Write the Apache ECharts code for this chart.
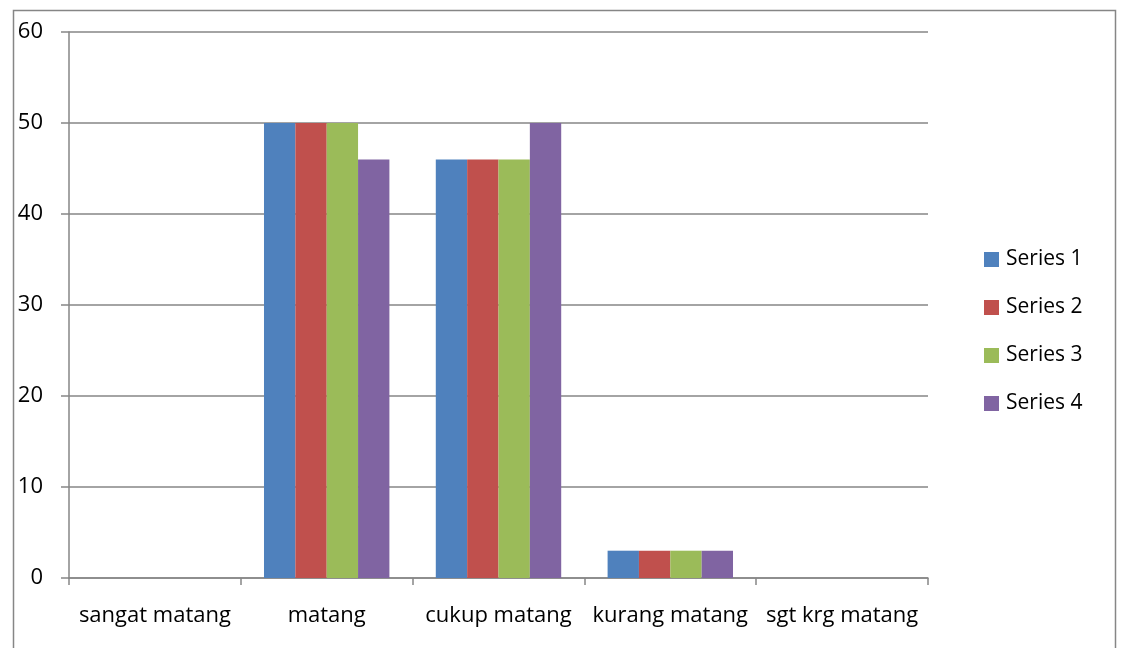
<!DOCTYPE html>
<html>
<head>
<meta charset="utf-8">
<script src="https://cdn.jsdelivr.net/npm/echarts@6/dist/echarts.min.js"></script>
<style>
html, body { margin: 0; padding: 0; background: #fff; }
#chart { width: 1121px; height: 648px; }
</style>
</head>
<body>
<div id="chart"></div>
<script>
var categories = ['sangat matang', 'matang', 'cukup matang', 'kurang matang', 'sgt krg matang'];
var seriesNames = ['Series 1', 'Series 2', 'Series 3', 'Series 4'];
var series1 = [0, 50, 46, 3, 0];
var series2 = [0, 50, 46, 3, 0];
var series3 = [0, 50, 46, 3, 0];
var series4 = [0, 46, 50, 3, 0];
var colors = ['#4F81BD', '#C0504D', '#9BBB59', '#8064A2'];

var chart = echarts.init(document.getElementById('chart'));
var font = '"Open Sans", sans-serif';
var allData = [series1, series2, series3, series4];

var option = {
    animation: false,
    color: colors,
    textStyle: { fontFamily: font },
    graphic: [{
        type: 'rect',
        shape: { x: 13.5, y: 10.5, width: 1102, height: 660 },
        style: { fill: 'none', stroke: '#868686', lineWidth: 1.5 },
        silent: true
    }],
    grid: { left: 69, right: 193, top: 32, bottom: 70 },
    legend: {
        orient: 'vertical',
        left: 984,
        top: 249,
        padding: 0,
        itemWidth: 15,
        itemHeight: 15,
        itemGap: 27,
        icon: 'rect',
        textStyle: { fontSize: 21, color: '#000', fontFamily: font, padding: [0, 0, 0, 2] },
        data: seriesNames
    },
    xAxis: {
        type: 'category',
        data: categories,
        axisLine: { lineStyle: { color: '#868686', width: 1.5 } },
        axisTick: { show: true, length: 7, interval: 0, lineStyle: { color: '#868686', width: 1.5 } },
        axisLabel: { fontSize: 22, color: '#000', margin: 27, interval: 0, fontFamily: font }
    },
    yAxis: {
        type: 'value',
        min: 0,
        max: 60,
        interval: 10,
        axisLine: { show: true, lineStyle: { color: '#868686', width: 1.5 } },
        axisTick: { show: true, length: 8, lineStyle: { color: '#868686', width: 1.5 } },
        splitLine: { lineStyle: { color: '#868686', width: 1.5 } },
        axisLabel: { fontSize: 22, color: '#000', margin: 26, fontFamily: font }
    },
    series: seriesNames.map(function (name, i) {
        return {
            name: name,
            type: 'bar',
            data: allData[i],
            barGap: '0%',
            barCategoryGap: '27%',
            itemStyle: { color: colors[i] }
        };
    })
};

chart.setOption(option);
</script>
</body>
</html>
